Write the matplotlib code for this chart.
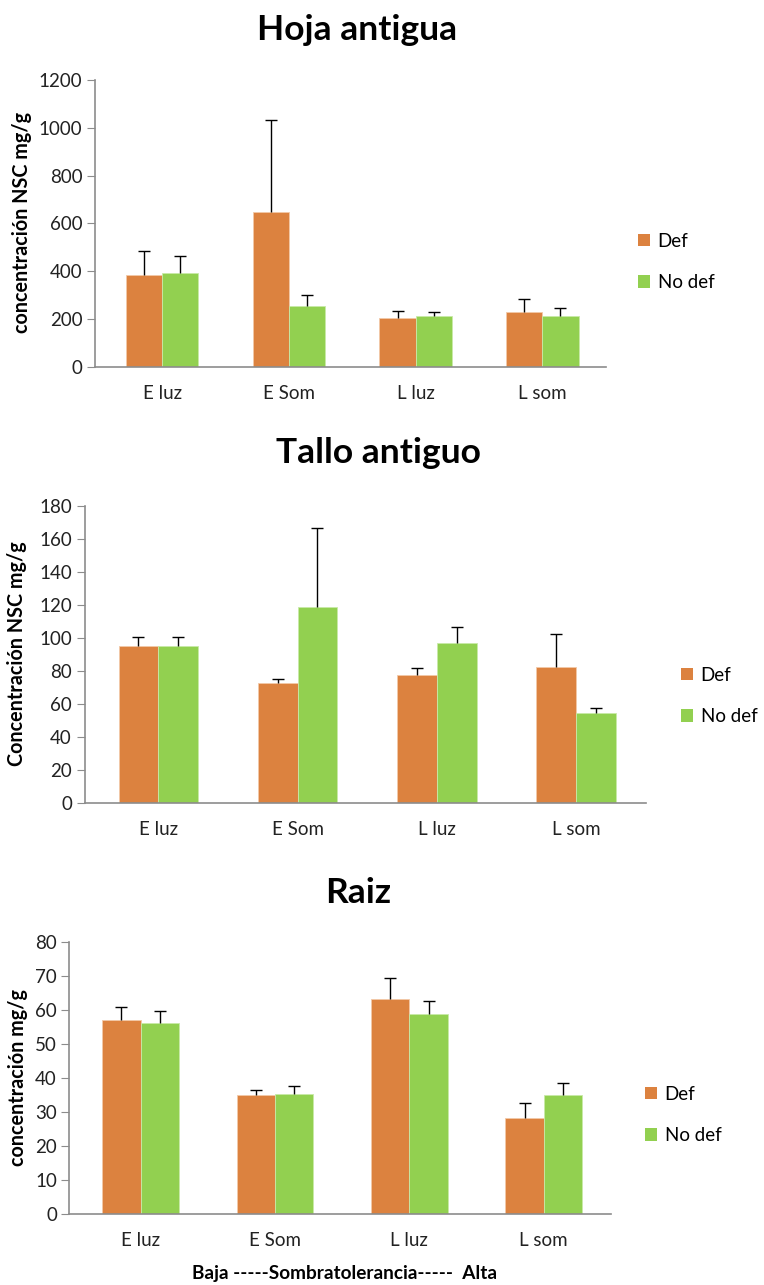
import numpy as np
import matplotlib.pyplot as plt
from matplotlib.patches import Patch

plt.rcParams['font.family'] = ['Lato', 'DejaVu Sans']

categorias = ['E luz', 'E Som', 'L luz', 'L som']
series = ['Def', 'No def']

# Hoja antigua
hoja_def = [385, 647, 205, 231]
hoja_def_err = [101, 387, 30, 53]
hoja_nodef = [394, 254, 213, 213]
hoja_nodef_err = [70, 48, 17, 35]

# Tallo antiguo
tallo_def = [95.2, 72.8, 77.4, 82.3]
tallo_def_err = [5.2, 2.4, 4.6, 20.1]
tallo_nodef = [95.2, 118.8, 97.2, 54.4]
tallo_nodef_err = [5.2, 47.7, 9.3, 3.3]

# Raiz
raiz_def = [56.9, 34.9, 63.2, 28.3]
raiz_def_err = [3.8, 1.7, 6.1, 4.5]
raiz_nodef = [56.2, 35.3, 58.7, 34.9]
raiz_nodef_err = [3.4, 2.3, 3.8, 3.5]

c_def = '#DC823F'
c_nodef = '#92D050'
gris = '#8C8C8C'

W, H = 764, 1285
fig = plt.figure(figsize=(W / 100, H / 100), dpi=100)


def rect(l, r, top, bottom):
    return [l / W, 1 - bottom / H, (r - l) / W, (bottom - top) / H]


def barras(ax, x, vals, err, color, borde):
    ax.bar(x, vals, 1 / 3.5, color=color, edgecolor=borde, linewidth=0.6, zorder=2)
    # solo la barra de error superior, sin tope abajo
    _, caps, _ = ax.errorbar(x, vals, yerr=[np.zeros(len(vals)), err], fmt='none',
                             ecolor='black', elinewidth=1, capsize=4, capthick=1, zorder=3)
    caps[0].set_visible(False)


def panel(pos, d, d_err, nd, nd_err, ymax, paso, titulo, tpos, ylab, ypos, leg):
    ax = fig.add_axes(rect(*pos))
    x = np.arange(len(categorias))
    w = 1 / 3.5
    barras(ax, x - w / 2, d, d_err, c_def, '#F2C9A8')
    barras(ax, x + w / 2, nd, nd_err, c_nodef, '#C8EAA8')
    ax.set_xlim(-0.53, 3.5)
    ax.set_ylim(0, ymax)
    ax.set_yticks(np.arange(0, ymax + 1, paso))
    ax.set_xticks(x)
    ax.set_xticklabels(categorias)
    for s in ['top', 'right']:
        ax.spines[s].set_visible(False)
    for s in ['left', 'bottom']:
        ax.spines[s].set_color(gris)
        ax.spines[s].set_linewidth(1.2)
    ax.tick_params(axis='y', length=6, color=gris, labelsize=13.5, pad=3, labelcolor='#222222')
    ax.tick_params(axis='x', length=0, labelsize=13.5, pad=13, labelcolor='#222222')
    fig.text(tpos[0] / W, 1 - tpos[1] / H, titulo, fontsize=25.5, fontweight='bold',
             ha='center', va='center')
    fig.text(ypos[0] / W, 1 - ypos[1] / H, ylab, fontsize=14.2, fontweight='bold',
             rotation=90, ha='center', va='center')
    handles = [Patch(facecolor=c_def), Patch(facecolor=c_nodef)]
    ax.legend(handles, series, loc='center left', frameon=False, fontsize=13.5,
              bbox_to_anchor=(leg[0] / W, 1 - leg[1] / H), bbox_transform=fig.transFigure,
              handlelength=0.65, handleheight=0.65, handletextpad=0.4, labelspacing=1.3,
              borderpad=0, borderaxespad=0)
    return ax


panel((95, 605.7, 80, 367), hoja_def, hoja_def_err, hoja_nodef, hoja_nodef_err,
      1200, 200, 'Hoja antigua', (357, 30), 'concentración NSC mg/g', (22, 222), (638, 262))
panel((84.5, 645.7, 505.7, 803.3), tallo_def, tallo_def_err, tallo_nodef, tallo_nodef_err,
      180, 20, 'Tallo antiguo', (378, 453), 'Concentración NSC mg/g', (17, 654), (681, 696))
panel((69.4, 611, 941.7, 1214.3), raiz_def, raiz_def_err, raiz_nodef, raiz_nodef_err,
      80, 10, 'Raiz', (358, 893), 'concentración mg/g', (18, 1078), (645, 1115))

fig.text(344 / W, 1 - 1274 / H, 'Baja -----Sombratolerancia-----  Alta', fontsize=13.7,
         fontweight='bold', ha='center', va='center')

fig.savefig('out.png', dpi=100, facecolor='white')
